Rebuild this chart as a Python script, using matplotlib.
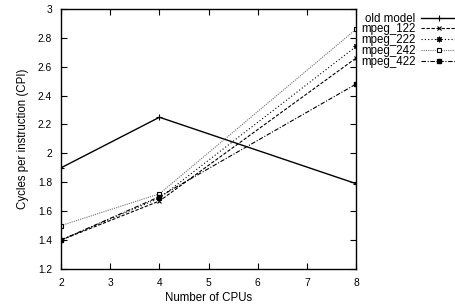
import numpy as np
import matplotlib
matplotlib.use("Agg")
import matplotlib.pyplot as plt
from matplotlib.ticker import FormatStrFormatter

plt.rcParams['font.family'] = ['Liberation Sans', 'DejaVu Sans']

# data
cpus = [2, 4, 8]
old_model = [1.90, 2.25, 1.79]
mpeg_122 = [1.40, 1.67, 2.66]
mpeg_222 = [1.40, 1.69, 2.74]
mpeg_242 = [1.50, 1.72, 2.86]
mpeg_422 = [1.40, 1.70, 2.48]

fs = 8.3
tfs = 7.4
fig = plt.figure(figsize=(4.56, 3.08), dpi=100)
ax = fig.add_axes([0.134, 0.127, 0.647, 0.844])

ax.plot(cpus, old_model, color='black', lw=1.0, marker='+', ms=4, mew=0.8,
        label='old model')
ax.plot(cpus, mpeg_122, color='black', lw=0.8, ls=(0, (3, 1.5)), marker='x',
        ms=3.5, mew=0.8, label='mpeg_122')
ax.plot(cpus, mpeg_222, color='black', lw=0.8, ls=(0, (1, 2)), marker=(8, 2, 0),
        ms=4, mew=0.8, label='mpeg_222')
ax.plot(cpus, mpeg_242, color='0.45', lw=0.8, ls=(0, (1, 1)), marker='s',
        ms=3.5, mfc='white', mec='black', mew=0.8, label='mpeg_242')
ax.plot(cpus, mpeg_422, color='black', lw=0.8, ls=(0, (4, 1.5, 1, 1.5)), marker='s',
        ms=3.5, mfc='black', mec='black', label='mpeg_422')

ax.set_xlim(2, 8)
ax.set_ylim(1.2, 3.0)
ax.set_xticks(np.arange(2, 9, 1))
ax.set_yticks(np.arange(1.2, 3.01, 0.2))
ax.yaxis.set_major_formatter(FormatStrFormatter('%g'))
ax.tick_params(direction='in', length=4, width=0.8, top=True, right=True,
               labelsize=tfs, pad=6.5)
for s in ax.spines.values():
    s.set_linewidth(1.0)

ax.set_xlabel('Number of CPUs', fontsize=fs, labelpad=3)
ax.set_ylabel('Cycles per instruction (CPI)', fontsize=fs, labelpad=6)

fig.legend(loc='upper right', bbox_to_anchor=(1.0, 0.959), frameon=False,
           markerfirst=False, fontsize=fs, handlelength=3.0, handletextpad=0.5,
           labelspacing=-0.1, borderpad=0.0, borderaxespad=0.0)

fig.savefig('out.png', dpi=100)
